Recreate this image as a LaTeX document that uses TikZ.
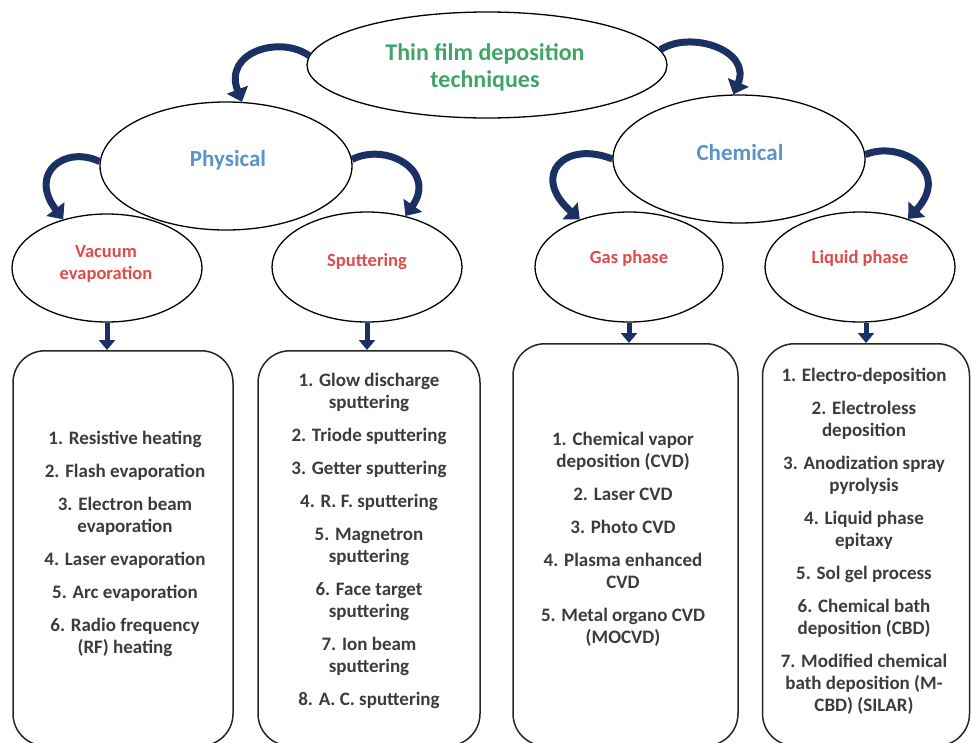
\documentclass[tikz,border=0pt]{standalone}
\usepackage{fontspec}
\setmainfont{Carlito}
\usetikzlibrary{shapes.geometric,arrows.meta}
\definecolor{navy}{HTML}{1C3163}
\definecolor{titlegreen}{HTML}{41A56B}
\definecolor{catblue}{HTML}{5A95C6}
\definecolor{subred}{HTML}{DD4B4B}
\definecolor{listgray}{HTML}{3C3C3C}
\begin{document}
\begin{tikzpicture}[x=1pt,y=-1pt,
  ell/.style={ellipse,draw=black,line width=1.3pt,inner sep=0pt,fill=white},
  listbox/.style={draw=black!85,line width=1.5pt,rounded corners=32pt,inner sep=0pt},
  titletext/.style={font=\fontsize{24}{27}\selectfont\bfseries,text=titlegreen,align=center,inner sep=0pt},
  cattext/.style={font=\fontsize{23}{27}\selectfont\bfseries,text=catblue,align=center,inner sep=0pt},
  subtext/.style={font=\fontsize{18.5}{22}\selectfont\bfseries,text=subred,align=center,inner sep=0pt},
  listtext/.style={font=\fontsize{19}{22}\selectfont\bfseries,text=listgray,align=center,inner sep=0pt},
  curvarrow/.style={draw=navy,line width=7pt,-{Triangle[length=13pt,width=22pt]}},
  downarrow/.style={draw=navy,line width=5pt,-{Triangle[length=10pt,width=16pt]}}
]
\useasboundingbox (0,0) rectangle (971,742);
\fill[white] (0,0) rectangle (971,742);

% boxes
\node[listbox,minimum width=220pt,minimum height=395pt,anchor=north] (B1) at (123,350) {};
\node[listbox,minimum width=222pt,minimum height=395pt,anchor=north] (B2) at (369,350) {};
\node[listbox,minimum width=225pt,minimum height=402pt,anchor=north] (B3) at (625.5,343) {};
\node[listbox,minimum width=207pt,minimum height=402pt,anchor=north] (B4) at (866,343) {};

% ellipses
\node[ell,minimum width=360pt,minimum height=106pt] (T) at (487,65) {};
\node[ell,minimum width=252pt,minimum height=128pt] (P) at (226,166) {};
\node[ell,minimum width=252pt,minimum height=128pt] (C) at (739,159) {};
\node[ell,minimum width=190pt,minimum height=108pt] (V) at (107,268) {};
\node[ell,minimum width=190pt,minimum height=110pt] (S) at (367,267) {};
\node[ell,minimum width=188pt,minimum height=110pt] (G) at (629,267) {};
\node[ell,minimum width=190pt,minimum height=110pt] (L) at (860,267) {};

% texts
\node[titletext] (Tt) at (485,67) {Thin film deposition\\techniques};
\node[cattext] (Pt) at (228,160) {Physical};
\node[cattext] (Ct) at (740,153) {Chemical};
\node[subtext] (Vt) at (106,264) {Vacuum\\evaporation};
\node[subtext] (St) at (367,262) {Sputtering};
\node[subtext] (Gt) at (629,258) {Gas phase};
\node[subtext] (Lt) at (860,258) {Liquid phase};

\node[listtext] (L1) at (125,543.5) {1. Resistive heating\\[11pt]2. Flash evaporation\\[11pt]3. Electron beam\\evaporation\\[11pt]4. Laser evaporation\\[11pt]5. Arc evaporation\\[11pt]6. Radio frequency\\(RF) heating};
\node[listtext] (L2) at (369,541) {1. Glow discharge\\sputtering\\[11pt]2. Triode sputtering\\[11pt]3. Getter sputtering\\[11pt]4. R. F. sputtering\\[11pt]5. Magnetron\\sputtering\\[11pt]6. Face target\\sputtering\\[11pt]7. Ion beam\\sputtering\\[11pt]8. A. C. sputtering};
\node[listtext] (L3) at (623,539.5) {1. Chemical vapor\\deposition (CVD)\\[11pt]2. Laser CVD\\[11pt]3. Photo CVD\\[11pt]4. Plasma enhanced\\CVD\\[11pt]5. Metal organo CVD\\(MOCVD)};
\node[listtext] (L4) at (864,541) {1. Electro-deposition\\[11pt]2. Electroless\\deposition\\[11pt]3. Anodization spray\\pyrolysis\\[11pt]4. Liquid phase\\epitaxy\\[11pt]5. Sol gel process\\[11pt]6. Chemical bath\\deposition (CBD)\\[11pt]7. Modified chemical\\bath deposition (M-\\CBD) (SILAR)};

% curved arrows
\draw[curvarrow] (T.177) .. controls (280,35) and (223,52) .. (P.76);
\draw[curvarrow] (T.5) .. controls (690,30) and (752,50) .. (C.95);
\draw[curvarrow] (P.178) .. controls (65,145) and (28,173) .. (V.132);
\draw[curvarrow] (P.3) .. controls (387,142) and (437,171) .. (S.53);
\draw[curvarrow] (C.180) .. controls (565,140) and (530,175) .. (G.136);
\draw[curvarrow] (C.2) .. controls (900,140) and (952,171) .. (L.45);

% straight arrows
\draw[downarrow] (V.south) -- (V.south |- B1.north);
\draw[downarrow] (S.south) -- (S.south |- B2.north);
\draw[downarrow] (G.south) -- (G.south |- B3.north);
\draw[downarrow] (B4.north |- L.south) -- (B4.north);
\end{tikzpicture}
\end{document}
